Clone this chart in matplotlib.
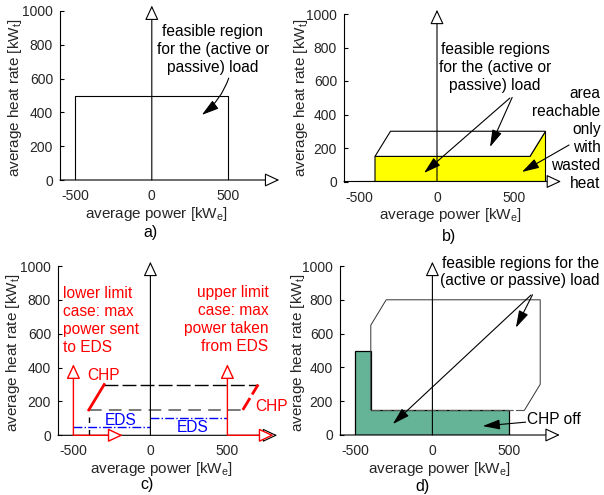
import matplotlib.pyplot as plt
from matplotlib.patches import Polygon

plt.rcParams['font.family'] = ['Liberation Sans', 'DejaVu Sans']
plt.rcParams['mathtext.fontset'] = 'custom'
plt.rcParams['mathtext.rm'] = 'Liberation Sans'
plt.rcParams['mathtext.it'] = 'Liberation Sans'
plt.rcParams['axes.unicode_minus'] = False

W, H = 604, 495

xticks = [-500, 0, 500]
yticks = [0, 200, 400, 600, 800, 1000]

# a) feasible region of the load
load_x = [-500, -500, 500, 500]
load_y = [0, 500, 500, 0]

# b) CHP region and region reachable only with wasted heat
chp_x = [-400, -300, 700, 600]
chp_y = [150, 300, 300, 150]
waste_x = [-400, -400, 600, 700, 700]
waste_y = [0, 150, 150, 300, 0]
off_x = [-500, -400]
off_y = [0, 0]

# c) CHP limits and EDS exchange
chp_top_x = [-300, 700]
chp_top_y = [300, 300]
chp_bot_x = [-400, 600]
chp_bot_y = [150, 150]
chp_left_x = [-400, -300]
chp_right_x = [600, 700]
chp_side_y = [150, 300]
eds_low_x = [-500, 0]
eds_low_y = [50, 50]
eds_high_x = [0, 500]
eds_high_y = [100, 100]
limit_x = [-500, 500]
limit_up = 420
limit_right = [-180, 800]

# d) combined region
comb_x = [-400, -400, -300, 700, 700, 600]
comb_y = [150, 650, 800, 800, 300, 150]
chpoff_x = [-500, -500, -400, -400, 500, 500]
chpoff_y = [0, 500, 500, 150, 150, 0]

fig = plt.figure(figsize=(W / 100, H / 100), dpi=100)

FS = 11.2  # annotation text size

ptr = dict(arrowstyle='-|>,head_length=0.75,head_width=0.22', color='black',
           lw=0.8, mutation_scale=14, shrinkA=0, shrinkB=0)


def make_axes(left, top, bottom, scale, xtip, ytip):
    ax = fig.add_axes([left / W, 1 - bottom / H, 1400 * scale / W, (bottom - top) / H])
    ax.set_xlim(-600, 800)
    ax.set_ylim(0, 1000)
    for s in ['top', 'right', 'bottom']:
        ax.spines[s].set_visible(False)
    ax.spines['left'].set_linewidth(0.8)
    ax.set_xticks(xticks)
    ax.set_yticks(yticks)
    ax.tick_params(axis='x', length=0, pad=6.5, labelsize=10, labelcolor='#262626')
    ax.tick_params(axis='y', direction='in', length=3, width=0.8, pad=5,
                   labelsize=10, labelcolor='#262626')
    ax.set_facecolor('none')
    head = dict(arrowstyle='-|>,head_length=0.75,head_width=0.35', fc='white',
                ec='black', lw=0.8, mutation_scale=12, shrinkA=0, shrinkB=0)
    ax.annotate('', xy=(xtip, 0), xytext=(-600, 0), arrowprops=head,
                annotation_clip=False, zorder=5)
    ax.annotate('', xy=(0, ytip), xytext=(0, 0), arrowprops=head,
                annotation_clip=False, zorder=5)
    return ax


def labels(xl, yl, yy, tag, tx, ty):
    fig.text(xl[0] / W, 1 - xl[1] / H, 'average power [kW$_\\mathregular{e}$]',
             ha='center', va='center', fontsize=11, color='#262626')
    fig.text(yl / W, 1 - yy / H, 'average heat rate [kW$_\\mathregular{t}$]',
             ha='center', va='center', rotation=90, fontsize=11, color='#262626')
    fig.text(tx / W, 1 - ty / H, tag, ha='center', va='center', fontsize=11.5)


# ---- a)
ax = make_axes(60, 11, 180, 0.153, 833, 1032)
ax.plot(load_x, load_y, color='black', lw=0.8)
ax.text(400, 770, 'feasible region\nfor the (active or\npassive) load',
        ha='center', va='center', fontsize=FS, linespacing=1.25)
ax.annotate('', xy=(327, 385), xytext=(503, 603),
            arrowprops=dict(ptr, connectionstyle='arc3,rad=-0.15'))
labels((156, 214), 15, 98, 'a)', 151, 232)

# ---- b)
ax = make_axes(344, 14, 181.5, 0.155, 800, 1025)
ax.add_patch(Polygon(list(zip(waste_x, waste_y)), closed=True, fc='#ffff00',
                     ec='black', lw=0.8))
ax.add_patch(Polygon(list(zip(chp_x, chp_y)), closed=True, fc='white',
                     ec='black', lw=0.8))
ax.plot(off_x, off_y, color='black', lw=1.5)
ax.text(374, 678, 'feasible regions\nfor the (active or\npassive) load',
        ha='center', va='center', fontsize=FS, linespacing=1.25)
ax.annotate('', xy=(-84, 51), xytext=(470, 498), arrowprops=ptr)
ax.annotate('', xy=(342, 206), xytext=(485, 502), arrowprops=ptr)
ax.text(1055, 258, 'area\nreachable\nonly\nwith\nwasted\nheat', ha='right',
        va='center', multialignment='right', fontsize=FS, linespacing=1.25)
ax.annotate('', xy=(548, 57), xytext=(852, 218), arrowprops=ptr)
labels((450, 215), 301, 98, 'b)', 449, 236)

# ---- c)
ax = make_axes(58, 266, 435.3, 0.154, 823, 1025)
ax.plot(chp_top_x, chp_top_y, color='black', lw=1, dashes=(10, 3))
ax.plot(chp_bot_x, chp_bot_y, color='#707070', lw=1.3, dashes=(7, 4))
ax.plot([-400, -400], [0, 150], color='black', lw=1, dashes=(4, 5), dash_capstyle='butt')
ax.plot(chp_left_x, chp_side_y, color='red', lw=2)
ax.plot(chp_right_x, chp_side_y, color='red', lw=2, dashes=(5, 1.5))
ax.plot(eds_low_x, eds_low_y, color='blue', lw=1, linestyle='-.')
ax.plot(eds_high_x, eds_high_y, color='blue', lw=1, linestyle='-.')
red_head = dict(arrowstyle='-|>,head_length=0.75,head_width=0.35', fc='white',
                ec='red', lw=1, mutation_scale=12, shrinkA=0, shrinkB=0)
for x0, xr in zip(limit_x, limit_right):
    ax.annotate('', xy=(x0, limit_up), xytext=(x0, 0), arrowprops=red_head,
                annotation_clip=False, zorder=6)
    ax.annotate('', xy=(xr, 0), xytext=(x0, 0), arrowprops=red_head,
                annotation_clip=False, zorder=6)
ax.text(-565, 681, 'lower limit\ncase: max\npower sent\nto EDS', ha='left',
        va='center', color='red', fontsize=FS, linespacing=1.25)
ax.text(766, 682, 'upper limit\ncase: max\npower taken\nfrom EDS', ha='right',
        va='center', multialignment='right', color='red', fontsize=FS, linespacing=1.25)
ax.text(-305, 356, 'CHP', ha='center', va='center', color='red', fontsize=FS)
ax.text(786, 173, 'CHP', ha='center', va='center', color='red', fontsize=FS)
ax.text(-195, 89, 'EDS', ha='center', va='center', color='blue', fontsize=FS)
ax.text(272, 47, 'EDS', ha='center', va='center', color='blue', fontsize=FS)
labels((161, 468.5), 13, 353, 'c)', 147, 485)

# ---- d)
ax = make_axes(340, 266, 435, 0.154, 827, 1025)
ax.add_patch(Polygon(list(zip(chpoff_x, chpoff_y)), closed=True, fc='#65b497',
                     ec='black', lw=0.9))
ax.plot(comb_x, comb_y, color='#333333', lw=0.7)
ax.plot([comb_x[0], comb_x[-1]], [comb_y[0], comb_y[-1]], color='#555555',
        lw=0.8, dashes=(8, 2))
ax.text(570, 964, 'feasible regions for the\n(active or passive) load',
        ha='center', va='center', fontsize=FS, linespacing=1.2)
ax.annotate('', xy=(-257, 65), xytext=(640, 828), arrowprops=ptr)
ax.annotate('', xy=(542, 635), xytext=(650, 830), arrowprops=ptr)
ax.text(786, 89, 'CHP off', ha='center', va='center', fontsize=FS)
ax.annotate('', xy=(327, 53), xytext=(605, 76), arrowprops=ptr)
labels((439, 468.5), 298, 353, 'd)', 422, 486.5)

fig.savefig('out.png', dpi=100)
